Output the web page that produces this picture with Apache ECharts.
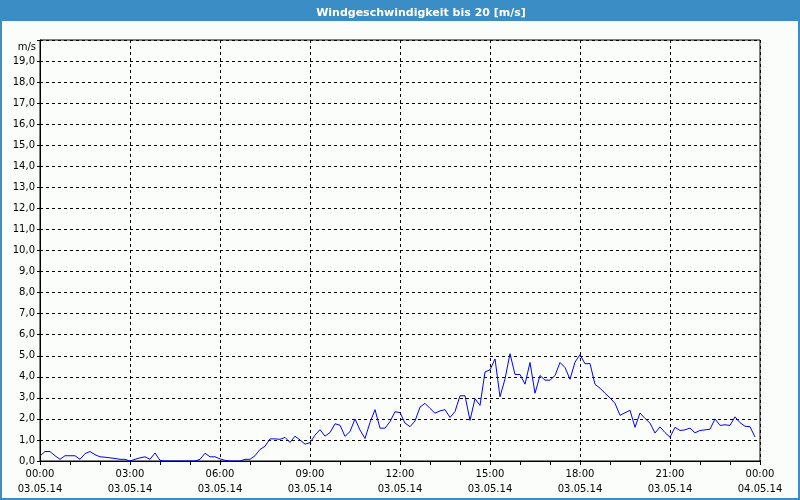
<!DOCTYPE html>
<html>
<head>
<meta charset="utf-8">
<script src="https://cdn.jsdelivr.net/npm/echarts@6/dist/echarts.min.js"></script>
<style>
html,body{margin:0;padding:0;background:#fbfdfb;}
#chart{width:800px;height:500px;}
</style>
</head>
<body>
<div id="chart"></div>
<script>
// Wind speed samples every 10 minutes, 03.05.14 00:00 .. 23:50 (m/s)
var windSpeed = [
0.24,0.45,0.45,0.25,0.08,0.25,0.25,0.25,0.08,0.35,
0.45,0.3,0.2,0.18,0.15,0.12,0.08,0.08,0,0.08,
0.15,0.2,0.08,0.38,0.03,0,0,0,0,0,
0,0,0.08,0.37,0.2,0.2,0.1,0.03,0,0,
0,0.08,0.08,0.25,0.55,0.7,1.05,1.05,1.03,1.12,
0.88,1.18,1.0,0.8,0.87,1.23,1.49,1.18,1.35,1.77,
1.7,1.17,1.4,2.0,1.47,1.07,1.83,2.44,1.56,1.56,
1.87,2.34,2.3,1.8,1.63,1.9,2.56,2.74,2.5,2.27,
2.38,2.44,2.07,2.35,3.1,3.1,1.93,2.96,2.64,4.23,
4.33,4.85,3.05,3.9,5.1,4.11,4.11,3.65,4.68,3.22,
4.06,3.84,3.84,4.06,4.68,4.44,3.88,4.7,5.05,4.62,
4.63,3.64,3.46,3.22,3.0,2.74,2.17,2.29,2.41,1.6,
2.28,2.02,1.8,1.33,1.62,1.35,1.13,1.6,1.45,1.48,
1.56,1.34,1.45,1.48,1.51,2.0,1.69,1.72,1.69,2.1,
1.82,1.65,1.63,1.14
];
var sampleStepMinutes = 10;
var xTimeLabels = ['00:00','03:00','06:00','09:00','12:00','15:00','18:00','21:00','00:00'];
var xDateLabels = ['03.05.14','03.05.14','03.05.14','03.05.14','03.05.14','03.05.14','03.05.14','03.05.14','04.05.14'];
var titleText = 'Windgeschwindigkeit bis 20 [m/s]';
var yUnit = 'm/s';

var seriesData = windSpeed.map(function (v, i) { return [i * sampleStepMinutes, v]; });

var chart = echarts.init(document.getElementById('chart'), null, {renderer: 'canvas'});
var FONT = 'DejaVu Sans';
var BLUE = '#3b8dc5';
chart.setOption({
  backgroundColor: '#fbfdfb',
  animation: false,
  title: {
    text: titleText,
    left: 416,
    top: 3,
    textAlign: 'center',
    textStyle: {color: '#ffffff', fontFamily: FONT, fontSize: 11, fontWeight: 'bold'}
  },
  graphic: [
    {type: 'rect', z: -10, silent: true, shape: {x: 0, y: 0, width: 800, height: 21}, style: {fill: BLUE}},
    {type: 'rect', z: -10, silent: true, shape: {x: 1, y: 1, width: 798, height: 498}, style: {fill: null, stroke: BLUE, lineWidth: 2}}
  ],
  grid: {left: 40, right: 40, top: 40, bottom: 39, show: true, borderColor: '#000', borderWidth: 1, backgroundColor: 'transparent'},
  xAxis: {
    type: 'value', min: 0, max: 1440, interval: 180, z: 3,
    axisLine: {show: true, onZero: false, lineStyle: {color: '#000', width: 1}},
    axisTick: {show: true, length: 4, lineStyle: {color: '#000'}},
    minorTick: {show: true, splitNumber: 3, length: 4, lineStyle: {color: '#000'}},
    splitLine: {show: true, lineStyle: {color: '#000', type: [3, 3], width: 1}},
    axisLabel: {
      margin: 6, color: '#000', fontFamily: FONT, fontSize: 10, lineHeight: 15,
      formatter: function (v) { var k = Math.round(v / 180); return xTimeLabels[k] + '\n' + xDateLabels[k]; }
    }
  },
  yAxis: {
    type: 'value', min: 0, max: 20, interval: 1,
    name: yUnit, nameLocation: 'end', nameGap: -7,
    nameTextStyle: {color: '#000', fontFamily: FONT, fontSize: 10, align: 'right', verticalAlign: 'middle', padding: [0, 4, 0, 0]},
    axisLine: {show: true, lineStyle: {color: '#000', width: 1}},
    axisTick: {show: true, length: 3, lineStyle: {color: '#000'}},
    splitLine: {show: true, lineStyle: {color: '#000', type: [3, 3], width: 1}},
    axisLabel: {
      margin: 5, color: '#000', fontFamily: FONT, fontSize: 10,
      formatter: function (v) { return v >= 20 ? '' : v.toFixed(1).replace('.', ','); }
    }
  },
  series: [{
    type: 'line', data: seriesData, showSymbol: false, symbol: 'none',
    lineStyle: {color: '#0000ff', width: 1}, itemStyle: {color: '#0000ff'}
  }]
});
</script>
</body>
</html>
